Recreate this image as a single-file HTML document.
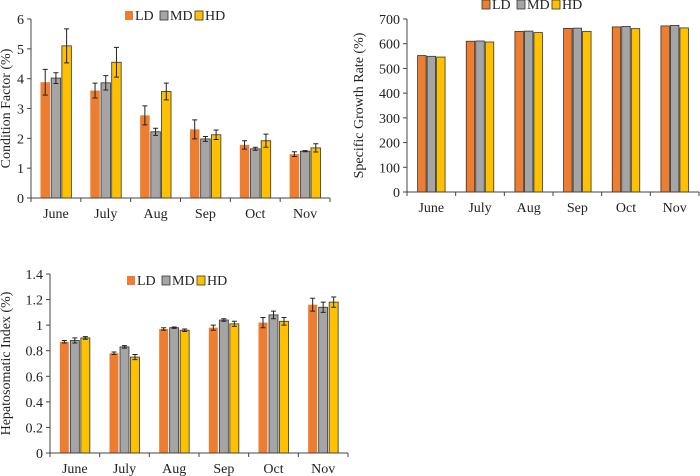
<!DOCTYPE html>
<html><head><meta charset="utf-8"><style>
body{margin:0;background:#fff;}
svg{display:block;font-family:"Liberation Serif",serif;}
</style></head><body>
<svg id="c" width="700" height="476" viewBox="0 0 700 476"></svg>
<script>
const months = ["June","July","Aug","Sep","Oct","Nov"];
const cfLD = [3.88,3.6,2.77,2.3,1.78,1.47];
const cfLDerr = [0.43,0.25,0.32,0.32,0.14,0.08];
const cfMD = [4.02,3.86,2.22,1.98,1.65,1.57];
const cfMDerr = [0.18,0.24,0.12,0.08,0.05,0.02];
const cfHD = [5.1,4.55,3.57,2.12,1.92,1.68];
const cfHDerr = [0.57,0.5,0.28,0.16,0.22,0.14];
const cfTicks = [0,1,2,3,4,5,6];
const sgLD = [552,610,650,662,668,672];
const sgMD = [549,611,651,663,670,674];
const sgHD = [546,607,645,650,661,664];
const sgTicks = [0,100,200,300,400,500,600,700];
const hsLD = [0.87,0.78,0.97,0.98,1.02,1.16];
const hsLDerr = [0.01,0.01,0.01,0.02,0.04,0.05];
const hsMD = [0.88,0.83,0.98,1.04,1.08,1.14];
const hsMDerr = [0.02,0.01,0.005,0.01,0.03,0.04];
const hsHD = [0.90,0.75,0.96,1.01,1.03,1.18];
const hsHDerr = [0.01,0.02,0.01,0.02,0.03,0.04];
const hsTicks = ["0","0.2","0.4","0.6","0.8","1","1.2","1.4"];
const seriesNames = ["LD","MD","HD"];
const colors = ["#ED7D31","#A5A5A5","#FFC000"];

const svg = document.getElementById('c');
const NS = "http://www.w3.org/2000/svg";
function mk(tag, attrs, parent){
  const e = document.createElementNS(NS, tag);
  for (const k in attrs) e.setAttribute(k, attrs[k]);
  (parent||svg).appendChild(e);
  return e;
}
function chart(o){
  const g = mk('g', {});
  
  
  const y = v => o.y0 - (v - 0) / o.max * (o.y0 - o.y1);
  const band = (o.x1 - o.x0) / months.length;
  o.ticks.forEach(t => {
    const yy = y(parseFloat(t));
    const ln = mk('line', {x1:o.x0-4, x2:o.x0, y1:yy, y2:yy, stroke:'#444'}, g);
    
    
    const tx = mk('text', {x:o.x0-7, y:yy+5, 'text-anchor':'end', 'font-size':14, fill:'#222'}, g);
    tx.textContent = t;
    
    
  });
  const bw = o.bw, gap = o.gap;
  o.series.forEach((s, si) => {
    s.forEach((v, i) => {
      const cx = o.x0 + band * (i + 0.5);
      const bx = cx - (3 * bw + 2 * gap) / 2 + si * (bw + gap);
      const r = mk('rect', {x:bx, y:y(v), width:bw, height:o.y0 - y(v), fill:colors[si],
        stroke:(o.border || si > 0) ? '#333' : 'none', 'stroke-width':0.8}, g);
      
      
      if (o.errs) {
        const e = o.errs[si][i];
        const ex = bx + bw / 2;
        const eg = mk('path', {d:`M${ex},${y(v+e)}V${y(v-e)}M${ex-2.5},${y(v+e)}H${ex+2.5}M${ex-2.5},${y(v-e)}H${ex+2.5}`,
          stroke:'#222', 'stroke-width':1, fill:'none'}, g);
        
        
      }
    });
  });
  const ya = mk('line', {x1:o.x0, x2:o.x0, y1:o.y1, y2:o.y0, stroke:'#444'}, g);
  
  
  const xa = mk('line', {x1:o.x0, x2:o.x1, y1:o.y0, y2:o.y0, stroke:'#444'}, g);
  
  
  for (let i = 0; i <= months.length; i++) {
    const xx = o.x0 + band * i;
    const tk = mk('line', {x1:xx, x2:xx, y1:o.y0, y2:o.y0+4, stroke:'#444'}, g);
    
    
  }
  months.forEach((m, i) => {
    const tx = mk('text', {x:o.x0 + band * (i + 0.5), y:o.y0 + 20, 'text-anchor':'middle', 'font-size':14, fill:'#222'}, g);
    tx.textContent = m;
    
    
  });
  const yt = mk('text', {x:0, y:0, 'text-anchor':'middle', 'font-size':14, fill:'#222',
    transform:`translate(${o.tx},${(o.y0+o.y1)/2}) rotate(-90)`}, g);
  yt.textContent = o.title;
  
  
  let lx = o.lx;
  seriesNames.forEach((n, si) => {
    const sw = mk('rect', {x:lx, y:o.ly-9, width:8, height:9, fill:colors[si],
      stroke:(o.border || si > 0) ? '#333' : 'none', 'stroke-width':0.8}, g);
    
    
    const t = mk('text', {x:lx+10, y:o.ly, 'font-size':14, fill:'#222'}, g);
    t.textContent = n;
    
    
    lx += 35;
  });
}
chart({name:'condition-factor-chart', x0:31, x1:330, y0:198, y1:19, max:6, ticks:cfTicks.map(String),
  series:[cfLD,cfMD,cfHD], errs:[cfLDerr,cfMDerr,cfHDerr], bw:9.5, gap:1.2, border:false,
  title:'Condition Factor (%)', tx:10, lx:125, ly:20});
chart({name:'specific-growth-rate-chart', x0:407, x1:699, y0:192, y1:19, max:700, ticks:sgTicks.map(String),
  series:[sgLD,sgMD,sgHD], errs:null, bw:8.5, gap:1, border:true,
  title:'Specific Growth Rate (%)', tx:363, lx:482, ly:9});
chart({name:'hepatosomatic-index-chart', x0:50, x1:348, y0:453, y1:274, max:1.4, ticks:hsTicks,
  series:[hsLD,hsMD,hsHD], errs:[hsLDerr,hsMDerr,hsHDerr], bw:9, gap:1.5, border:false,
  title:'Hepatosomatic Index (%)', tx:10, lx:127, ly:285});
</script>
</body></html>
